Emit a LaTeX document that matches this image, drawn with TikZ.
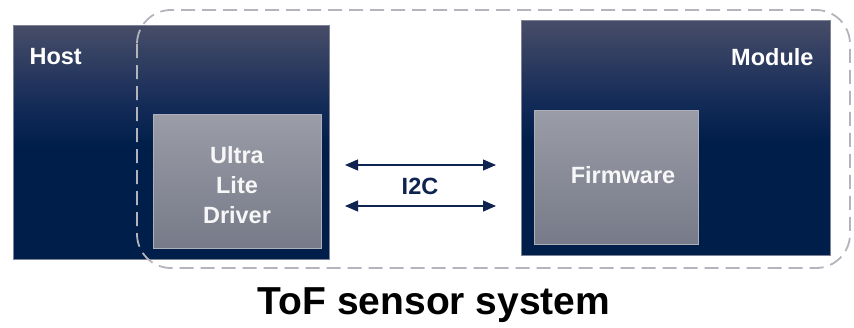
\documentclass[tikz,border=0pt]{standalone}
\usepackage{fontspec}
\setmainfont{Liberation Sans}
\usetikzlibrary{arrows.meta,positioning,calc}

\definecolor{navytop}{HTML}{474D68}
\definecolor{navymid}{HTML}{142B58}
\definecolor{navybot}{HTML}{001E4A}
\definecolor{greytop}{HTML}{9A9CA7}
\definecolor{greybot}{HTML}{777A88}
\definecolor{dashgrey}{HTML}{B4B4BC}
\definecolor{linknavy}{HTML}{0E2350}

% dark navy over the lower half, fading to grey-blue at the top
\pgfdeclareverticalshading{navyfade}{100bp}{color(0bp)=(navybot); color(25bp)=(navybot);
  color(49bp)=(navybot); color(58bp)=(navymid); color(75bp)=(navytop); color(100bp)=(navytop)}

\begin{document}
\begin{tikzpicture}[x=1pt, y=-1pt,
  every node/.style={font=\bfseries},
  chip/.style={rectangle, draw=navytop!70, line width=0.6pt, anchor=north west,
    shading=navyfade, inner sep=0pt},
  block/.style={rectangle, draw=greytop!80, line width=0.6pt, anchor=north west,
    top color=greytop, bottom color=greybot, inner sep=0pt},
  label/.style={text=white, font=\fontsize{23.5}{30}\selectfont\bfseries},
  link/.style={{Triangle[length=13pt,width=11pt]}-{Triangle[length=13pt,width=11pt]}, draw=linknavy, line width=1.1pt}]
  \useasboundingbox (0,0) rectangle (854,327);

  % host and module
  \node[chip, minimum width=316pt, minimum height=234pt] (host) at (13,25) {};
  \node[chip, minimum width=309pt, minimum height=235pt] (module) at (521,20) {};
  \node[label, anchor=west] (hostlab) at (26,57) {Host};
  \node[label, anchor=east] (modlab) at (817,57) {Module};

  % inner blocks
  \node[block, minimum width=168pt, minimum height=134pt] (driver) at (153,114) {};
  \node[label, text=white!94!gray, align=center] (drvlab) at (237,185) {Ultra\\Lite\\Driver};
  \node[block, minimum width=164pt, minimum height=134pt] (fw) at (534,110) {};
  \node[label, text=white!94!gray] (fwlab) at (623,175) {Firmware};

  % system outline
  \draw[dashgrey, line width=1.8pt, dash pattern=on 14pt off 7pt, rounded corners=34pt]
    (137,10) rectangle (850,268);

  % I2C link
  \foreach \n/\y in {a/165,b/206}{
    \coordinate (l\n) at (345,\y);
    \coordinate (r\n) at (496,\y);
    \draw[link] (l\n) -- (r\n);
  }
  \node[label, text=linknavy] (bus) at (420,186) {I2C};

  % caption
  \node[font=\fontsize{39}{46}\selectfont\bfseries] (title) at (434,305) {ToF sensor system};
\end{tikzpicture}
\end{document}
